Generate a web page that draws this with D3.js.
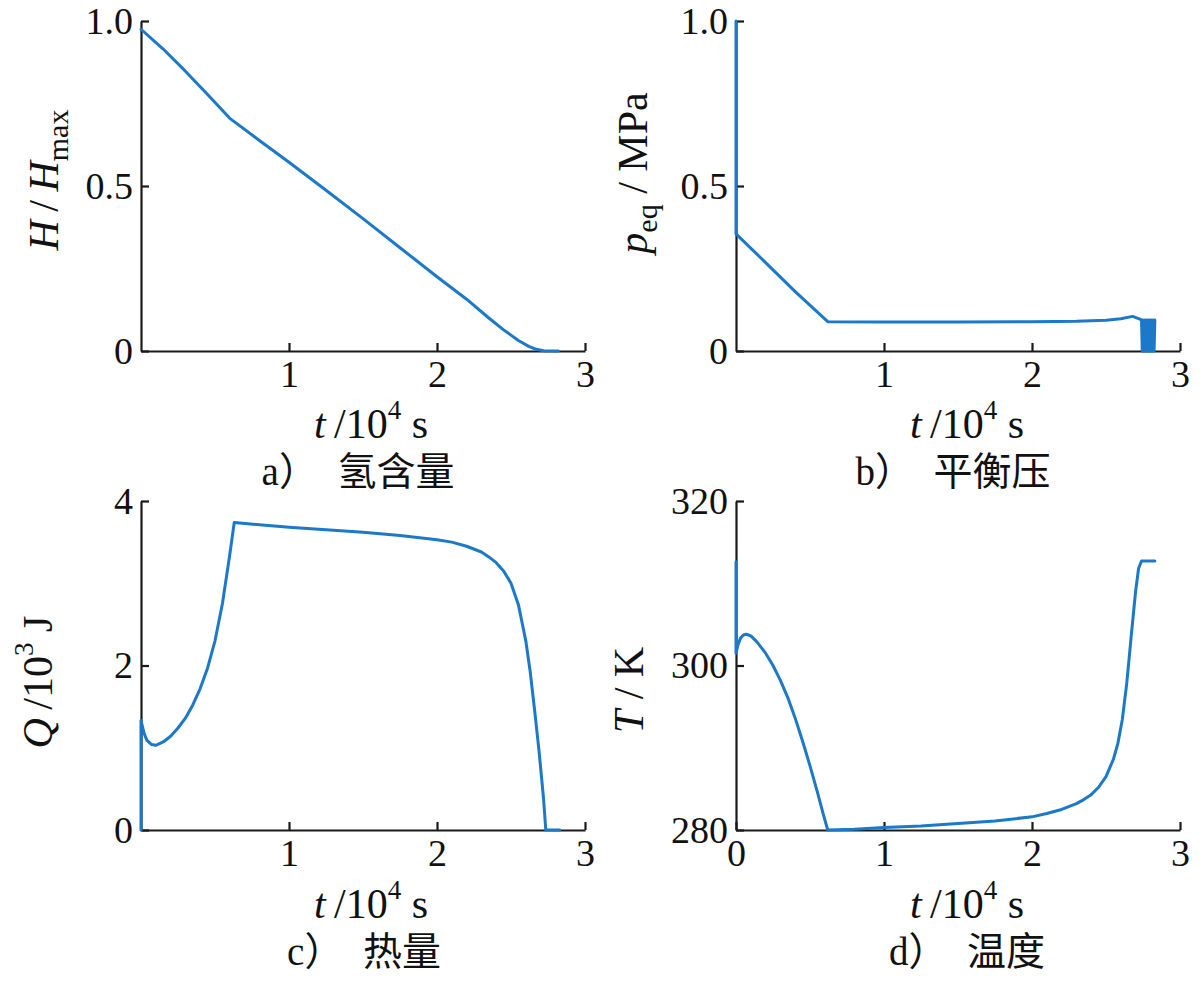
<!DOCTYPE html>
<html><head><meta charset="utf-8">
<script src="https://cdn.jsdelivr.net/npm/d3@7"></script>
<style>
body{margin:0;background:#fff;}
svg{display:block;}
svg text{fill:#111; font-family:"Liberation Serif","Times New Roman",serif;}
svg text.cap{font-family:"Liberation Serif","Noto Sans CJK SC",serif;}
</style></head>
<body>
<svg id="chart" width="1200" height="995"></svg>
<script>
// ---- data (time in 10^4 s) ----
const tA = [0, 0.15, 0.3, 0.45, 0.6, 0.8, 1.0, 1.25, 1.5, 1.75, 2.0, 2.2, 2.35, 2.45, 2.55, 2.62, 2.67, 2.72, 2.82];
const hA = [0.975, 0.915, 0.848, 0.777, 0.705, 0.638, 0.572, 0.487, 0.401, 0.313, 0.225, 0.157, 0.1, 0.064, 0.032, 0.014, 0.005, 0.001, 0];

const tB = [0, 0, 0.2, 0.4, 0.62, 1.0, 1.5, 2.0, 2.3, 2.5, 2.6, 2.68, 2.72, 2.74,
            2.745, 2.75, 2.755, 2.76, 2.765, 2.77, 2.775, 2.78, 2.785, 2.79, 2.795, 2.8, 2.805, 2.81, 2.815, 2.82, 2.825, 2.83];
const pB = [1.0, 0.355, 0.268, 0.18, 0.089, 0.088, 0.088, 0.089, 0.09, 0.093, 0.098, 0.105, 0.098, 0.094,
            0, 0.094, 0, 0.094, 0, 0.094, 0, 0.094, 0, 0.094, 0, 0.094, 0, 0.094, 0, 0.094, 0, 0.094];

const tC = [0, 0, 0.02, 0.04, 0.07, 0.1, 0.15, 0.2, 0.25, 0.3, 0.35, 0.4, 0.45, 0.5, 0.55, 0.6, 0.63, 0.8, 1.0, 1.25, 1.5, 1.75, 2.0, 2.1, 2.2, 2.3, 2.35, 2.4, 2.45, 2.5, 2.55, 2.6, 2.63, 2.66, 2.69, 2.72, 2.735, 2.83];
const qC = [0, 1.33, 1.18, 1.09, 1.04, 1.03, 1.07, 1.14, 1.24, 1.36, 1.52, 1.72, 1.97, 2.3, 2.75, 3.35, 3.74, 3.71, 3.68, 3.65, 3.62, 3.58, 3.53, 3.5, 3.45, 3.38, 3.32, 3.25, 3.15, 3.0, 2.74, 2.3, 1.92, 1.45, 0.95, 0.38, 0, 0];

const tD = [0, 0, 0.015, 0.03, 0.05, 0.07, 0.1, 0.14, 0.2, 0.25, 0.3, 0.35, 0.4, 0.45, 0.5, 0.55, 0.59, 0.62, 0.8, 1.0, 1.25, 1.5, 1.75, 2.0, 2.1, 2.2, 2.3, 2.35, 2.4, 2.45, 2.5, 2.55, 2.58, 2.61, 2.64, 2.67, 2.7, 2.72, 2.74, 2.83];
const TD = [312.6, 301.5, 302.6, 303.3, 303.7, 303.8, 303.6, 302.9, 301.5, 300.0, 298.2, 296.1, 293.6, 290.8, 287.8, 284.6, 281.9, 280, 280.1, 280.3, 280.5, 280.8, 281.1, 281.6, 282, 282.5, 283.2, 283.7, 284.3, 285.2, 286.5, 288.6, 290.5, 293.4, 297.8, 303.5, 309, 311.8, 312.7, 312.7];

// ---- tick labels ----
const xTicksABC = [1, 2, 3];
const xTicksD = [0, 1, 2, 3];
const yTicksAB = [0, 0.5, 1.0];
const yLabelsAB = ["0", "0.5", "1.0"];
const yTicksC = [0, 2, 4];
const yTicksD = [280, 300, 320];
const captions = ["a）\u2002氢含量", "b）\u2002平衡压", "c）\u2002热量", "d）\u2002温度"];

const svg = d3.select("#chart");
const LINE = "#1c78c8";

function panel(o){
  const x = d3.scaleLinear().domain([0, 3]).range([o.left, o.right]);
  const y = d3.scaleLinear().domain(o.yDomain).range([o.bottom, o.top]);
  const g = svg.append("g");

  const xa = d3.axisBottom(x).tickValues(o.xTicks).tickFormat(d3.format("d"))
      .tickSizeInner(-8).tickSizeOuter(0).tickPadding(9);
  const gx = g.append("g").attr("transform", `translate(0,${o.bottom})`).call(xa);
  const ya = d3.axisLeft(y).tickValues(o.yTicks).tickFormat((d,i)=>o.yLabels[i])
      .tickSizeInner(-8).tickSizeOuter(0).tickPadding(8);
  const gy = g.append("g").attr("transform", `translate(${o.left},0)`).call(ya);
  [gx, gy].forEach(a=>{
    a.attr("font-family", null).attr("font-size", null);
    a.selectAll("path,line").attr("stroke", "#1a1a1a").attr("stroke-width", 2.2);
    a.selectAll("text").style("font-size", "38px").attr("fill", "#111");
  });

  const line = d3.line().x((d,i)=>x(o.t[i])).y((d,i)=>y(o.v[i]));
  g.append("path").datum(o.v).attr("d", line)
    .attr("fill", "none").attr("stroke", LINE).attr("stroke-width", 3)
    .attr("stroke-linejoin", "round").attr("stroke-linecap", "round");

  // x label  t / 10^4 s
  const xl = g.append("text").attr("x", o.xlx).attr("y", o.xly)
    .attr("text-anchor", "middle").style("font-size", "42px");
  xl.append("tspan").attr("font-style", "italic").text("t");
  xl.append("tspan").text("\u2009/10");
  xl.append("tspan").style("font-size", "27px").attr("dy", -19).text("4");
  xl.append("tspan").attr("dy", 19).text(" s");

  // y label
  const yl = g.append("text").attr("transform", `translate(${o.ylx},${o.yly}) rotate(-90)`)
    .attr("text-anchor", "middle").style("font-size", "42px");
  o.ylabel(yl);

  // caption
  g.append("text").attr("class", "cap").attr("x", o.capx).attr("y", o.capy).attr("text-anchor", "middle")
    .style("font-size", "39px").text(o.caption);
}

panel({left:141, right:585, top:21, bottom:351, yDomain:[0,1], xTicks:xTicksABC,
  yTicks:yTicksAB, yLabels:yLabelsAB, t:tA, v:hA,
  xlx:371, xly:438, ylx:58, yly:180, capx:358, capy:485, caption:captions[0],
  ylabel: s=>{
    s.append("tspan").attr("font-style","italic").text("H");
    s.append("tspan").text("\u2009/\u2009");
    s.append("tspan").attr("font-style","italic").text("H");
    s.append("tspan").style("font-size","30px").attr("dy",10).text("max");
  }});

panel({left:736, right:1180, top:21, bottom:351, yDomain:[0,1], xTicks:xTicksABC,
  yTicks:yTicksAB, yLabels:yLabelsAB, t:tB, v:pB,
  xlx:967, xly:438, ylx:647, yly:173, capx:953, capy:485, caption:captions[1],
  ylabel: s=>{
    s.append("tspan").attr("font-style","italic").text("p");
    s.append("tspan").style("font-size","30px").attr("dy",10).text("eq");
    s.append("tspan").attr("dy",-10).text(" / MPa");
  }});

panel({left:141, right:585, top:501, bottom:830, yDomain:[0,4], xTicks:xTicksABC,
  yTicks:yTicksC, yLabels:yTicksC.map(String), t:tC, v:qC,
  xlx:371, xly:918, ylx:52, yly:682, capx:364, capy:965, caption:captions[2],
  ylabel: s=>{
    s.append("tspan").attr("font-style","italic").text("Q");
    s.append("tspan").text("\u2009/10");
    s.append("tspan").style("font-size","27px").attr("dy",-19).text("3");
    s.append("tspan").attr("dy",19).text(" J");
  }});

panel({left:736, right:1180, top:501, bottom:830, yDomain:[280,320], xTicks:xTicksD,
  yTicks:yTicksD, yLabels:yTicksD.map(String), t:tD, v:TD,
  xlx:967, xly:918, ylx:643, yly:690, capx:967, capy:965, caption:captions[3],
  ylabel: s=>{
    s.append("tspan").attr("font-style","italic").text("T");
    s.append("tspan").text(" / K");
  }});
</script>
</body></html>
